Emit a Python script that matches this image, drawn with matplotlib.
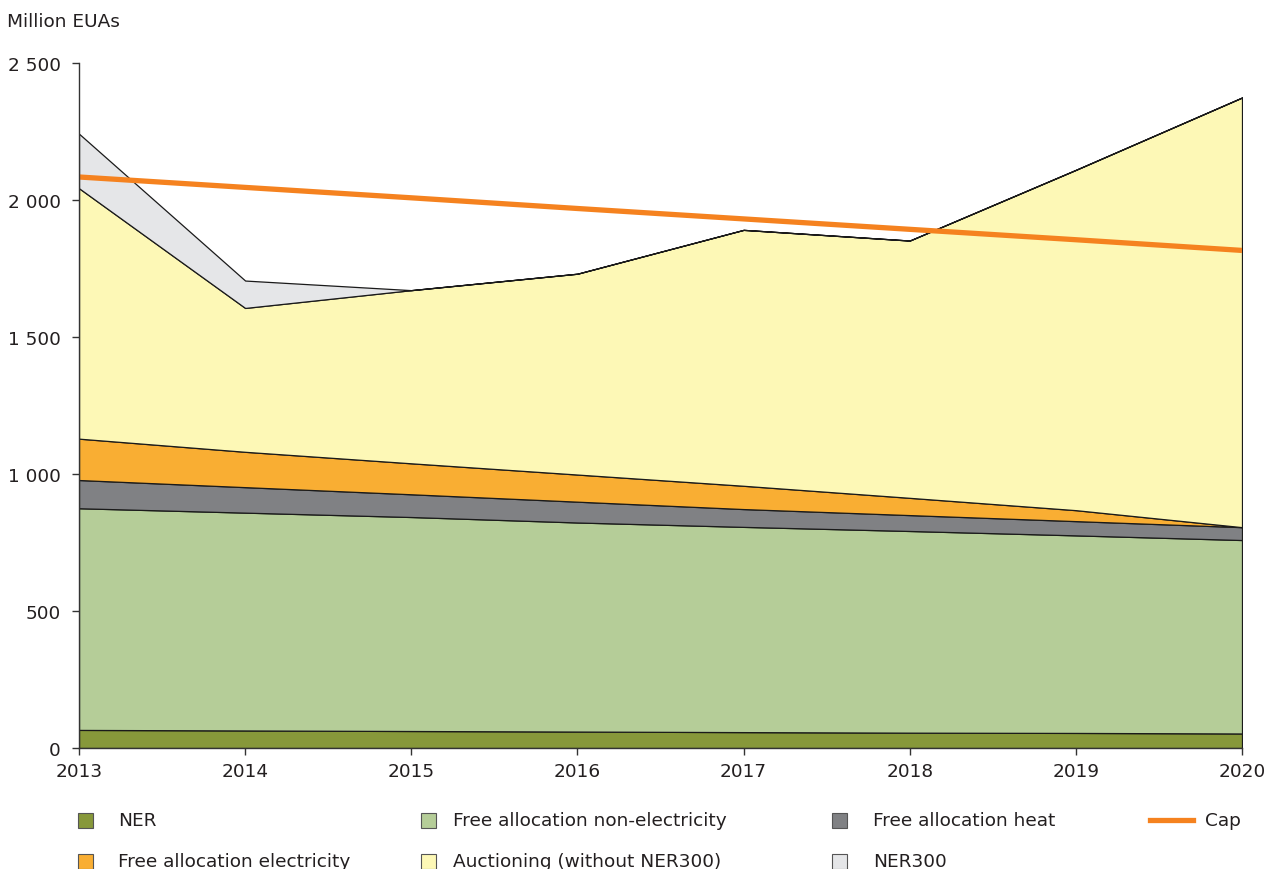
import numpy as np
import matplotlib
matplotlib.use("Agg")
import matplotlib.pyplot as plt
from matplotlib.patches import Rectangle
from matplotlib.lines import Line2D

# Million EUAs per year
years = [2013, 2014, 2015, 2016, 2017, 2018, 2019, 2020]
ner = [66, 64, 62, 60, 58, 56, 55, 53]
free_non_elec = [809, 795, 781, 763, 749, 736, 721, 706]
free_heat = [103, 93, 83, 76, 65, 58, 52, 47]
free_elec = [151, 129, 113, 99, 85, 63, 40, 0]
auctioning = [914, 525, 632, 733, 934, 939, 1242, 1568]
ner300 = [199, 100, 0, 0, 0, 0, 0, 0]
cap = [2084, 2046, 2008, 1969, 1931, 1893, 1855, 1816]

labels = ["NER", "Free allocation non-electricity", "Free allocation heat",
          "Free allocation electricity", "Auctioning (without NER300)", "NER300"]
colors = ["#87983a", "#b5cd98", "#808184", "#f9ae33", "#fdf8b6", "#e5e6e8"]
cap_color = "#f5821f"
text_color = "#231f20"

y_ticks = [0, 500, 1000, 1500, 2000, 2500]
y_ticklabels = ["0", "500", "1 000", "1 500", "2 000", "2 500"]

FS = 13.3
plt.rcParams["font.family"] = ["DejaVu Sans"]
plt.rcParams["font.size"] = FS

W, H = 1265, 870
fig = plt.figure(figsize=(W / 100, H / 100), dpi=100)
ax = fig.add_axes([79 / W, 1 - 749 / H, (1242 - 79) / W, (749 - 64) / H])

ax.stackplot(years, ner, free_non_elec, free_heat, free_elec, auctioning, ner300,
             colors=colors, edgecolor="#1a1a1a", linewidth=0.9)
ax.plot(years, cap, color=cap_color, linewidth=3.8, solid_capstyle="butt")

ax.set_xlim(2013, 2020)
ax.set_ylim(0, 2500)
ax.set_xticks(years)
ax.set_xticklabels([str(y) for y in years], color=text_color)
ax.set_yticks(y_ticks)
ax.set_yticklabels(y_ticklabels, color=text_color)
ax.tick_params(axis="both", direction="out", length=5, width=1, color="#333333",
               labelsize=FS)
ax.tick_params(axis="x", pad=5)
ax.tick_params(axis="y", pad=8)
for side in ["top", "right"]:
    ax.spines[side].set_visible(False)
for side in ["left", "bottom"]:
    ax.spines[side].set_color("#333333")
    ax.spines[side].set_linewidth(1)

fig.text(7 / W, 1 - 22 / H, "Million EUAs", ha="left", va="center",
         fontsize=FS, color=text_color)

# legend laid out like the reference (two rows, four columns)
entries = [
    (labels[0], colors[0], 78, 118, 821),
    (labels[1], colors[1], 421, 453, 821),
    (labels[2], colors[2], 832, 873, 821),
    (labels[3], colors[3], 78, 118, 862),
    (labels[4], colors[4], 421, 453, 862),
    (labels[5], colors[5], 832, 873, 862),
]
sq = 15
for name, col, xs, xt, yc in entries:
    fig.add_artist(Rectangle((xs / W, 1 - (yc + sq / 2) / H), sq / W, sq / H,
                             transform=fig.transFigure, facecolor=col,
                             edgecolor="#555555", linewidth=0.8))
    fig.text(xt / W, 1 - yc / H, name, ha="left", va="center",
             fontsize=FS, color=text_color)

fig.add_artist(Line2D([1150 / W, 1193 / W], [1 - 821 / H, 1 - 821 / H],
                      transform=fig.transFigure, color=cap_color, linewidth=3.8))
fig.text(1205 / W, 1 - 821 / H, "Cap", ha="left", va="center",
         fontsize=FS, color=text_color)

fig.savefig("out.png", dpi=100)
